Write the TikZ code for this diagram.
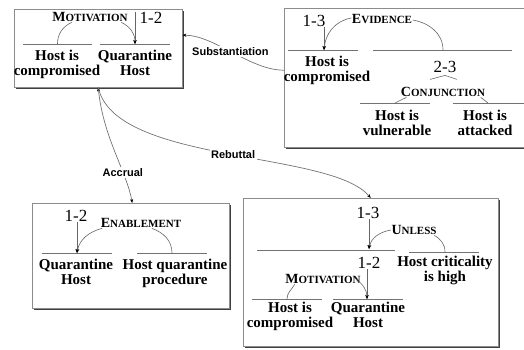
\documentclass[tikz,border=0pt]{standalone}
\usepackage{fontspec}
\setmainfont{Liberation Serif}
\setsansfont{Liberation Sans}
\usetikzlibrary{arrows.meta,shadows,positioning}

\newcommand{\rulename}[2]{{\fontsize{14}{14}\selectfont #1}{\fontsize{11}{11}\selectfont #2}}

\tikzset{
    box/.style={draw=black!45, fill=white, anchor=north west, inner sep=0pt,
        drop shadow={shadow xshift=1.8pt, shadow yshift=-1.8pt, fill=black!75, opacity=1}},
    bar/.style={draw=black!55, line width=0.8pt},
    claim/.style={anchor=north, align=center, inner sep=0pt,
        font=\fontsize{15}{15}\selectfont\bfseries},
    rulelbl/.style={inner sep=0.5pt, font=\bfseries},
    num/.style={inner sep=0.5pt, font=\fontsize{17}{17}\selectfont},
    link/.style={draw=black!60, line width=0.6pt},
    tip/.style={-{Stealth[length=4pt,width=3.2pt,black]}},
    conn/.style={draw=black!55, line width=0.7pt},
    tag/.style={fill=white, inner sep=1.5pt, font=\sffamily\bfseries\fontsize{11}{11}\selectfont}
}

\begin{document}
\begin{tikzpicture}[x=1pt, y=1pt]
    \useasboundingbox (0,0) rectangle (524,-349);

    % argument boxes
    \node (boxA) [box, minimum width=168pt, minimum height=78pt] at (14,-9) {};
    \node (boxB) [box, minimum width=244pt, minimum height=139pt] at (284,-8) {};
    \node (boxC) [box, minimum width=197pt, minimum height=105pt] at (32,-203) {};
    \node (boxD) [box, minimum width=255pt, minimum height=148pt] at (243,-198) {};

    % box A: motivation
    \node (motA) [rulelbl] at (90,-17) {\rulename{M}{OTIVATION}};
    \node (numA) [num] at (151,-18) {1-2};
    \coordinate (aL) at (57.5,-44);
    \coordinate (aR) at (135,-44);
    \draw[bar] (23,-44) -- (92,-44);
    \draw[bar] (100,-44) -- (170,-44);
    \node (aL1) [claim] at (57,-50) {Host is\\compromised};
    \node (aR1) [claim] at (135,-50) {Quarantine\\Host};
    \draw[link] ([xshift=20pt]motA.south west) to[out=205, in=90] (aL);
    \draw[link, tip] ([xshift=-7pt]motA.south east) to[out=-25, in=90] (aR);
    \draw[link, tip] (aR |- numA.north) -- (aR);

    % box B: evidence and conjunction
    \node (evB) [rulelbl] at (382,-19) {\rulename{E}{VIDENCE}};
    \node (numB) [num] at (314,-21) {1-3};
    \coordinate (bL) at (324,-50);
    \coordinate (bR) at (443,-50);
    \draw[bar] (288,-50) -- (358,-50);
    \draw[bar] (373,-50) -- (512,-50);
    \node (bL1) [claim] at (327,-56) {Host is\\compromised};
    \draw[link, tip] ([yshift=1pt]evB.west) to[out=190, in=85] (bL);
    \draw[link] ([yshift=-1pt]evB.east) to[out=-10, in=90] (bR);
    \draw[link, tip] ([xshift=10pt]numB.south) -- (bL);
    \node (numB2) [num] at (445,-67) {2-3};
    \node (cjB) [rulelbl] at (443,-92) {\rulename{C}{ONJUNCTION}};
    \draw[link] ([shift={(-15pt,-6pt)}]numB2.south) -- ([yshift=-2pt]numB2.south) -- ([shift={(12pt,-6pt)}]numB2.south);
    \coordinate (bcL) at (395,-103);
    \coordinate (bcR) at (488,-103);
    \draw[bar] (360,-103) -- (430,-103);
    \draw[bar] (453,-103) -- (527,-103);
    \draw[link] ([xshift=6pt]cjB.south west) -- (bcL);
    \draw[link] ([xshift=-5pt]cjB.south east) -- (bcR);
    \node (bcL1) [claim] at (397,-110) {Host is\\vulnerable};
    \node (bcR1) [claim] at (485,-110) {Host is\\attacked};

    % box C: enablement
    \node (enC) [rulelbl] at (141,-223) {\rulename{E}{NABLEMENT}};
    \node (numC) [num] at (76,-216) {1-2};
    \coordinate (cL) at (77,-253);
    \coordinate (cR) at (172,-253);
    \draw[bar] (42,-253) -- (112,-253);
    \draw[bar] (137,-253) -- (207,-253);
    \node (cL1) [claim] at (76,-259) {Quarantine\\Host};
    \node (cR1) [claim] at (175,-259) {Host quarantine\\procedure};
    \draw[link, tip] ([xshift=2pt]enC.south west) to[out=195, in=80] (cL);
    \draw[link] ([xshift=-30pt]enC.south east) to[out=-20, in=90] (cR);
    \draw[link, tip] (cL |- numC.south) -- (cL);

    % box D: unless over motivation
    \node (unD) [rulelbl] at (414,-230) {\rulename{U}{NLESS}};
    \node (numD) [num] at (368,-213) {1-3};
    \coordinate (dL) at (369,-249);
    \coordinate (dR) at (445,-252);
    \draw[bar] (257,-250) -- (395,-250);
    \draw[bar] (409,-252) -- (479,-252);
    \node (dR1) [claim] at (445,-256) {Host criticality\\is high};
    \draw[link, tip] (unD.west) to[out=190, in=80] (dL);
    \draw[link] ([xshift=-3pt]unD.south east) to[out=-30, in=90] (dR);
    \draw[link, tip] (dL |- numD.south) -- (dL);
    \node (numD2) [num] at (369,-263) {1-2};
    \node (motD) [rulelbl] at (323,-279) {\rulename{M}{OTIVATION}};
    \coordinate (dmL) at (287,-299);
    \coordinate (dmR) at (367,-299);
    \draw[bar] (252,-299) -- (322,-299);
    \draw[bar] (333,-299) -- (403,-299);
    \node (dmL1) [claim] at (290,-302) {Host is\\compromised};
    \node (dmR1) [claim] at (368,-302) {Quarantine\\Host};
    \draw[link] ([xshift=10pt]motD.south west) to[out=240, in=90] (dmL);
    \draw[link, tip] ([xshift=-5pt]motD.east) to[out=-40, in=90] (dmR);
    \draw[link, tip] (dmR |- numD2.south) -- (dmR);

    % relations between arguments
    \draw[conn, tip] ([yshift=7.5pt]boxB.west) .. controls +(-34,0) and +(32,0) .. ([yshift=13pt]boxA.east)
        node[tag, pos=0.52] {Substantiation};
    \draw[conn, {Stealth[length=4pt,width=3.2pt,black]}-{Stealth[length=4pt,width=3.2pt,black]}]
        (boxA.south) .. controls +(5,-50) and +(-5,30) .. ([xshift=1.5pt]boxC.north)
        node[tag, pos=0.68] {Accrual};
    \draw[conn, tip] (boxA.south) .. controls +(17,-77) and +(-40,48) .. (boxD.north)
        node[tag, pos=0.52] {Rebuttal};
\end{tikzpicture}
\end{document}
